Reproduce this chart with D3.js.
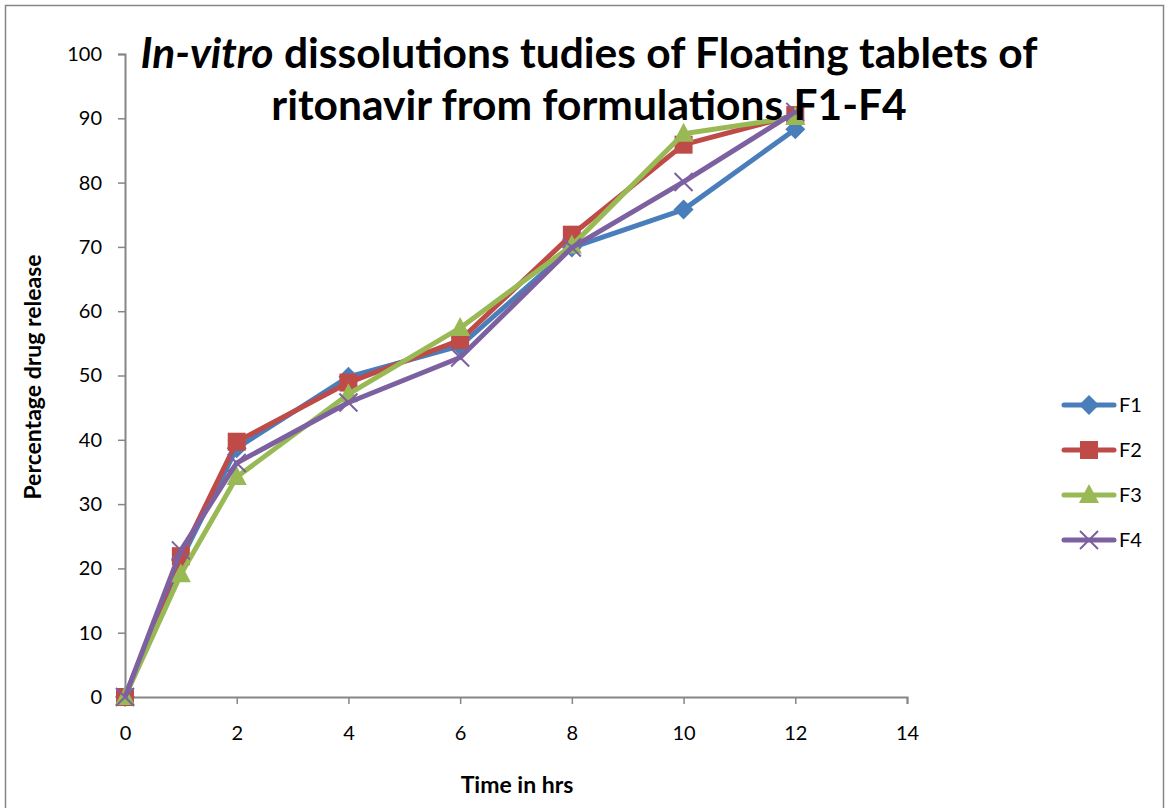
<!DOCTYPE html>
<html>
<head>
<meta charset="utf-8">
<script src="https://cdn.jsdelivr.net/npm/d3@7"></script>
<style>
  body { margin: 0; background: #fff; }
  svg { display: block; font-family: Lato, "Open Sans", sans-serif; }
</style>
</head>
<body>
<div class="chart"></div>
<script>
"use strict";
// dissolution data
const hours = [0, 1, 2, 4, 6, 8, 10, 12];
const F1 = [0, 21.3, 38.7, 49.8, 54.6, 69.9, 75.8, 88.3];
const F2 = [0, 21.9, 39.7, 48.9, 55.5, 71.9, 85.9, 90.5];
const F3 = [0, 19.1, 34.2, 47.1, 57.4, 70.2, 87.6, 90.2];
const F4 = [0, 22.8, 36.4, 45.8, 52.8, 69.9, 80.1, 91.0];
const seriesNames = ["F1", "F2", "F3", "F4"];
const xTicks = [0, 2, 4, 6, 8, 10, 12, 14];
const yTicks = [0, 10, 20, 30, 40, 50, 60, 70, 80, 90, 100];

const colors = ["#4a7ebb", "#be4b48", "#98b954", "#7d60a0"];
const shapes = ["diamond", "square", "triangle", "x"];

const W = 1170, H = 808;
const margin = {left: 125, top: 54, right: 263, bottom: 111};

const svg = d3.select(".chart").append("svg")
    .attr("width", W)
    .attr("height", H);

// outer frame
svg.append("rect")
    .attr("x", 5.5).attr("y", 5.5)
    .attr("width", 1158).attr("height", 820)
    .attr("fill", "none")
    .attr("stroke", "#868686")
    .attr("stroke-width", 1.5);

let x = d3.scaleLinear().domain([0, 14]).range([margin.left, W - margin.right]);
let y = d3.scaleLinear().domain([0, 100]).range([H - margin.bottom, margin.top]);

let xAxis = d3.axisBottom(x).tickValues(xTicks).tickSize(7).tickPadding(22);
let yAxis = d3.axisLeft(y).tickValues(yTicks).tickSize(7).tickPadding(16);

let gx = svg.append("g")
    .attr("transform", "translate(0," + y(0) + ")")
    .call(xAxis);
let gy = svg.append("g")
    .attr("transform", "translate(" + x(0) + ",0)")
    .call(yAxis);

[gx, gy].forEach(g => {
    g.select(".domain").attr("stroke", "#868686").attr("stroke-width", 2);
    g.selectAll(".tick line").attr("stroke", "#868686").attr("stroke-width", 1.5);
    g.selectAll(".tick text")
        .style("font", "20px Lato, sans-serif")
        .attr("fill", "#000");
});

// axis titles
svg.append("text")
    .attr("x", 517).attr("y", 793)
    .attr("text-anchor", "middle")
    .style("font", "bold 23px Lato, sans-serif")
    .text("Time in hrs");

svg.append("text")
    .attr("transform", "translate(41,377) rotate(-90)")
    .attr("text-anchor", "middle")
    .style("font", "bold 23px Lato, sans-serif")
    .text("Percentage drug release");

let allSeries = [F1, F2, F3, F4].map((vals, i) => ({
    name: seriesNames[i],
    color: colors[i],
    shape: shapes[i],
    values: hours.map((h, j) => ({h: h, v: vals[j]}))
}));

let line = d3.line()
    .x(d => x(d.h))
    .y(d => y(d.v));

function marker(g, shape, color) {
    if (shape === "diamond") {
        g.append("path").attr("d", "M0,-10L10,0L0,10L-10,0Z").attr("fill", color);
    } else if (shape === "square") {
        g.append("rect").attr("x", -9).attr("y", -9).attr("width", 18).attr("height", 18).attr("fill", color);
    } else if (shape === "triangle") {
        g.append("path").attr("d", "M0,-11L10,8L-10,8Z").attr("fill", color);
    } else {
        g.append("path").attr("d", "M-9,-9L9,9M-9,9L9,-9")
            .attr("stroke", color).attr("stroke-width", 2).attr("fill", "none");
    }
}

allSeries.forEach(s => {
    let g = svg.append("g");
    g.append("path")
        .attr("d", line(s.values))
        .attr("fill", "none")
        .attr("stroke", s.color)
        .attr("stroke-width", 5)
        .attr("stroke-linejoin", "round");
    g.selectAll(".pt")
        .data(s.values)
        .enter().append("g")
        .attr("transform", d => "translate(" + x(d.h) + "," + y(d.v) + ")")
        .each(function () { marker(d3.select(this), s.shape, s.color); });
});

// legend
let legend = svg.append("g");
allSeries.forEach((s, i) => {
    let ly = 405 + i * 45;
    let lg = legend.append("g");
    lg.append("line")
        .attr("x1", 1064).attr("x2", 1114)
        .attr("y1", ly).attr("y2", ly)
        .attr("stroke", s.color).attr("stroke-width", 5)
        .attr("stroke-linecap", "round");
    let m = lg.append("g").attr("transform", "translate(1089," + ly + ")");
    marker(m, s.shape, s.color);
    lg.append("text")
        .attr("x", 1119).attr("y", ly + 7)
        .style("font", "20px Lato, sans-serif")
        .text(s.name);
});

// title
let title = svg.append("text")
    .attr("text-anchor", "middle")
    .style("font", "bold 42.5px Lato, sans-serif");
let t1 = title.append("tspan").attr("x", 589).attr("y", 68);
t1.append("tspan").style("font-style", "italic").text("In-vitro");
t1.append("tspan").text(" dissolution");
t1.append("tspan").text("s tudies of Floating tablets of");
title.append("tspan").attr("x", 589).attr("y", 120)
    .text("ritonavir from formulations F1-F4");
</script>
</body>
</html>
